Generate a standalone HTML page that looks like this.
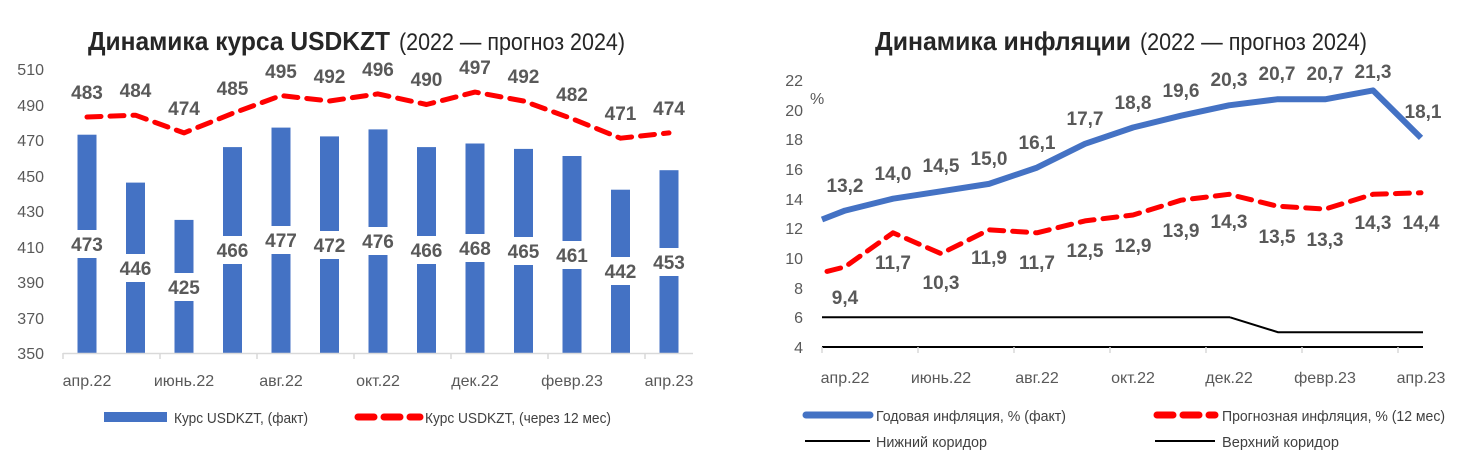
<!DOCTYPE html>
<html><head><meta charset="utf-8"><style>
body{margin:0;background:#fff;}
svg{display:block;font-family:"Liberation Sans Narrow","Liberation Sans",sans-serif;}
.t{font-size:26px;font-weight:bold;fill:#262626;}
.ts{font-size:24px;font-weight:normal;fill:#262626;}
.ax{font-size:16px;fill:#595959;}
.v{font-size:19px;font-weight:bold;fill:#595959;text-anchor:middle;}
.lg{font-size:15px;fill:#404040;}
</style></head><body>
<svg width="1479" height="458" viewBox="0 0 1479 458">
<!-- LEFT -->
<text x="88" y="50" class="t" textLength="302" lengthAdjust="spacingAndGlyphs">Динамика курса USDKZT</text>
<text x="399" y="50" class="ts" textLength="226" lengthAdjust="spacingAndGlyphs">(2022 — прогноз 2024)</text>
<g class="ax" text-anchor="end">
<text x="44" y="75">510</text><text x="44" y="111">490</text><text x="44" y="146">470</text><text x="44" y="182">450</text><text x="44" y="217">430</text><text x="44" y="253">410</text><text x="44" y="288">390</text><text x="44" y="324">370</text><text x="44" y="359">350</text>
</g>
<g fill="#4472C4">
<rect x="77.5" y="134.7" width="19" height="218.3"/><rect x="126" y="182.6" width="19" height="170.4"/><rect x="174.5" y="219.9" width="19" height="133.1"/><rect x="223" y="147.1" width="19" height="205.9"/><rect x="271.5" y="127.6" width="19" height="225.4"/><rect x="320" y="136.4" width="19" height="216.6"/><rect x="368.5" y="129.4" width="19" height="223.6"/><rect x="417" y="147.1" width="19" height="205.9"/><rect x="465.5" y="143.5" width="19" height="209.5"/><rect x="514" y="148.9" width="19" height="204.1"/><rect x="562.5" y="156" width="19" height="197"/><rect x="611" y="189.7" width="19" height="163.3"/><rect x="659.5" y="170.2" width="19" height="182.8"/>
</g>
<g fill="#fff">
<rect x="75" y="230" width="24" height="28"/><rect x="123" y="254" width="24" height="28"/><rect x="172" y="273" width="24" height="28"/><rect x="220" y="236" width="24" height="28"/><rect x="269" y="226" width="24" height="28"/><rect x="317" y="231" width="24" height="28"/><rect x="366" y="227" width="24" height="28"/><rect x="414" y="236" width="24" height="28"/><rect x="463" y="234" width="24" height="28"/><rect x="511" y="237" width="24" height="28"/><rect x="560" y="241" width="24" height="28"/><rect x="608" y="257" width="24" height="28"/><rect x="657" y="248" width="24" height="28"/>
</g>
<g class="v">
<text x="87" y="251">473</text><text x="135.5" y="275">446</text><text x="184" y="294">425</text><text x="232.5" y="257">466</text><text x="281" y="247">477</text><text x="329.5" y="252">472</text><text x="378" y="248">476</text><text x="426.5" y="257">466</text><text x="475" y="255">468</text><text x="523.5" y="258">465</text><text x="572" y="262">461</text><text x="620.5" y="278">442</text><text x="669" y="269">453</text>
</g>
<path d="M87,117 L135.5,115.2 L184,132.9 L232.5,113.4 L281,95.6 L329.5,101 L378,93.9 L426.5,104.5 L475,92.1 L523.5,101 L572,118.7 L620.5,138.2 L669,132.9" fill="none" stroke="#FF0000" stroke-width="5" stroke-dasharray="14,9" stroke-linecap="round" stroke-linejoin="round"/>
<g class="v">
<text x="87" y="99">483</text><text x="135.5" y="97">484</text><text x="184" y="115">474</text><text x="232.5" y="95">485</text><text x="281" y="78">495</text><text x="329.5" y="83">492</text><text x="378" y="76">496</text><text x="426.5" y="86">490</text><text x="475" y="74">497</text><text x="523.5" y="83">492</text><text x="572" y="101">482</text><text x="620.5" y="120">471</text><text x="669" y="115">474</text>
</g>
<g stroke="#d9d9d9" stroke-width="1.5">
<line x1="63" y1="353.5" x2="693" y2="353.5"/>
<line x1="63" y1="353" x2="63" y2="359"/><line x1="160" y1="353" x2="160" y2="359"/><line x1="257" y1="353" x2="257" y2="359"/><line x1="354" y1="353" x2="354" y2="359"/><line x1="451" y1="353" x2="451" y2="359"/><line x1="548" y1="353" x2="548" y2="359"/><line x1="645" y1="353" x2="645" y2="359"/>
</g>
<g class="ax" text-anchor="middle">
<text x="87" y="386">апр.22</text><text x="184" y="386">июнь.22</text><text x="281" y="386">авг.22</text><text x="378" y="386">окт.22</text><text x="475" y="386">дек.22</text><text x="572" y="386">февр.23</text><text x="669" y="386">апр.23</text>
</g>
<rect x="104" y="412" width="63" height="10" fill="#4472C4"/>
<text x="174" y="423" class="lg" textLength="134" lengthAdjust="spacingAndGlyphs">Курс USDKZT, (факт)</text>
<path d="M358,417 L420,417" stroke="#FF0000" stroke-width="7" stroke-dasharray="16,10" stroke-linecap="round"/>
<text x="425" y="423" class="lg" textLength="186" lengthAdjust="spacingAndGlyphs">Курс USDKZT, (через 12 мес)</text>

<!-- RIGHT -->
<text x="875" y="50" class="t" textLength="256" lengthAdjust="spacingAndGlyphs">Динамика инфляции</text>
<text x="1140" y="50" class="ts" textLength="227" lengthAdjust="spacingAndGlyphs">(2022 — прогноз 2024)</text>
<g class="ax" text-anchor="end">
<text x="803" y="86">22</text><text x="803" y="116">20</text><text x="803" y="145">18</text><text x="803" y="175">16</text><text x="803" y="205">14</text><text x="803" y="234">12</text><text x="803" y="264">10</text><text x="803" y="294">8</text><text x="803" y="323">6</text><text x="803" y="353">4</text>
</g>
<text x="810" y="104" class="ax">%</text>
<line x1="822" y1="317.3" x2="1230" y2="317.3" stroke="#000" stroke-width="2"/>
<path d="M1230,317.3 L1278,332.2 L1423,332.2" fill="none" stroke="#000" stroke-width="2"/>
<line x1="822" y1="347" x2="1423" y2="347" stroke="#000" stroke-width="2"/>
<g stroke="#d9d9d9" stroke-width="1.5">
<line x1="822" y1="347" x2="822" y2="353"/><line x1="918" y1="347" x2="918" y2="353"/><line x1="1014" y1="347" x2="1014" y2="353"/><line x1="1110" y1="347" x2="1110" y2="353"/><line x1="1206" y1="347" x2="1206" y2="353"/><line x1="1302" y1="347" x2="1302" y2="353"/><line x1="1398" y1="347" x2="1398" y2="353"/>
</g>
<path d="M822,219.5 L845,210.6 L893,198.7 L941,191.3 L989,183.9 L1037,167.6 L1085,143.8 L1133,127.5 L1181,115.7 L1229,105.3 L1277,99.3 L1325,99.3 L1373,90.4 L1421,137.9" fill="none" stroke="#4472C4" stroke-width="6" stroke-linejoin="round"/>
<path d="M827,271.4 L845,266.9 L893,232.8 L941,253.6 L989,229.8 L1037,232.8 L1085,220.9 L1133,215 L1181,200.2 L1229,194.3 L1277,206.1 L1325,209.1 L1373,194.3 L1421,192.8" fill="none" stroke="#FF0000" stroke-width="5" stroke-dasharray="14,9" stroke-linecap="round" stroke-linejoin="round"/>
<g class="v">
<text x="845" y="192">13,2</text><text x="893" y="180">14,0</text><text x="941" y="172">14,5</text><text x="989" y="165">15,0</text><text x="1037" y="149">16,1</text><text x="1085" y="125">17,7</text><text x="1133" y="109">18,8</text><text x="1181" y="97">19,6</text><text x="1229" y="86">20,3</text><text x="1277" y="80">20,7</text><text x="1325" y="80">20,7</text><text x="1373" y="78">21,3</text><text x="1423" y="118">18,1</text>
</g>
<g class="v">
<text x="845" y="304">9,4</text><text x="893" y="269">11,7</text><text x="941" y="289">10,3</text><text x="989" y="264">11,9</text><text x="1037" y="269">11,7</text><text x="1085" y="257">12,5</text><text x="1133" y="252">12,9</text><text x="1181" y="237">13,9</text><text x="1229" y="228">14,3</text><text x="1277" y="243">13,5</text><text x="1325" y="246">13,3</text><text x="1373" y="229">14,3</text><text x="1421" y="229">14,4</text>
</g>
<g class="ax" text-anchor="middle">
<text x="845" y="383">апр.22</text><text x="941" y="383">июнь.22</text><text x="1037" y="383">авг.22</text><text x="1133" y="383">окт.22</text><text x="1229" y="383">дек.22</text><text x="1325" y="383">февр.23</text><text x="1421" y="383">апр.23</text>
</g>
<line x1="806" y1="415" x2="870" y2="415" stroke="#4472C4" stroke-width="7" stroke-linecap="round"/>
<text x="876" y="421" class="lg" textLength="190" lengthAdjust="spacingAndGlyphs">Годовая инфляция, % (факт)</text>
<path d="M1157,415 L1215,415" stroke="#FF0000" stroke-width="7" stroke-dasharray="16,10" stroke-linecap="round"/>
<text x="1222" y="421" class="lg" textLength="223" lengthAdjust="spacingAndGlyphs">Прогнозная инфляция, % (12 мес)</text>
<line x1="805" y1="441" x2="870" y2="441" stroke="#000" stroke-width="2"/>
<text x="876" y="447" class="lg" textLength="111" lengthAdjust="spacingAndGlyphs">Нижний коридор</text>
<line x1="1155" y1="441" x2="1215" y2="441" stroke="#000" stroke-width="2"/>
<text x="1222" y="447" class="lg" textLength="117" lengthAdjust="spacingAndGlyphs">Верхний коридор</text>
</svg>
</body></html>
